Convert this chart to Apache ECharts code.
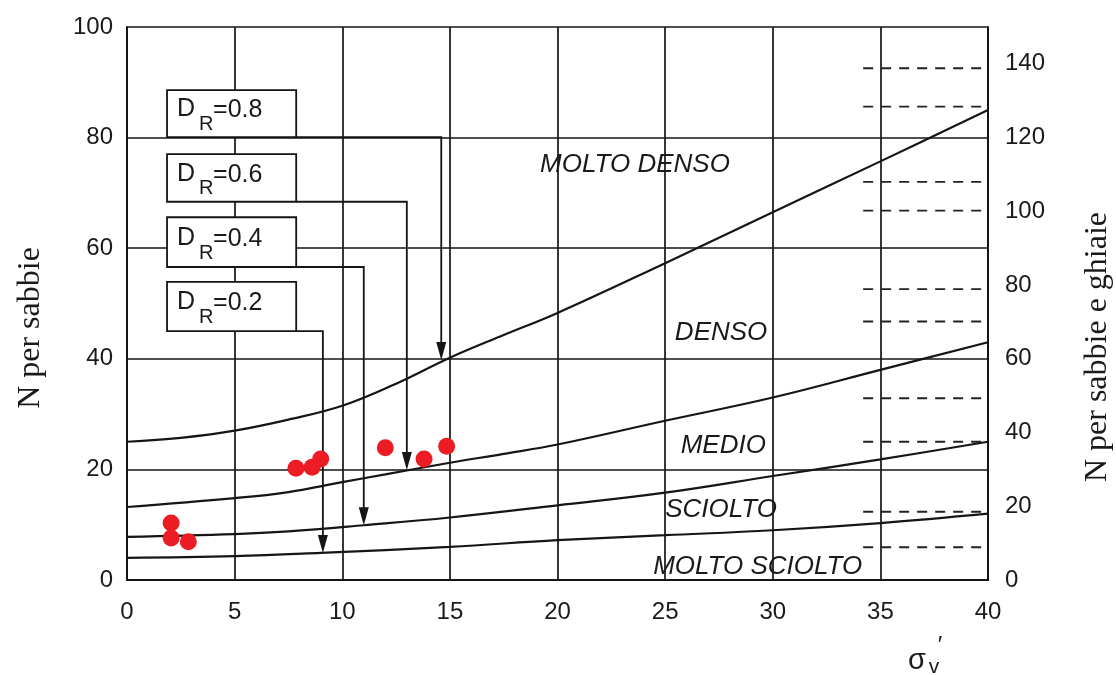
<!DOCTYPE html>
<html>
<head>
<meta charset="utf-8">
<title>N per sabbie</title>
<script src="https://cdn.jsdelivr.net/npm/echarts@6/dist/echarts.min.js"></script>
<style>
  html, body { margin: 0; padding: 0; background: #ffffff; }
  #chart { width: 1116px; height: 675px; }
</style>
</head>
<body>
<div id="chart"></div>
<script>
// Effective vertical stress axis (sigma'v)
const sigmaTicks = [0, 5, 10, 15, 20, 25, 30, 35, 40];

// Boundary curves between density classes: [sigma'v, N]
const curveMoltoDensoDenso = [[0, 25], [2.5, 25.7], [5, 27], [7.5, 29], [10, 31.5], [12.5, 35.5], [15, 40.2], [17.5, 44.3], [20, 48.3], [25, 57.3], [30, 66.5], [35, 75.7], [40, 85]];
const curveDensoMedio = [[0, 13.2], [5, 14.8], [7.5, 15.9], [10, 17.7], [12, 19.1], [15, 21.2], [17.5, 22.8], [20, 24.5], [25, 28.8], [30, 33], [35, 38], [40, 43]];
const curveMedioSciolto = [[0, 7.8], [5, 8.3], [7.5, 8.8], [11, 9.9], [15, 11.3], [20, 13.5], [25, 15.8], [30, 18.8], [35, 21.8], [40, 25]];
const curveScioltoMoltoSciolto = [[0, 4], [5, 4.3], [9, 4.9], [15, 6], [20, 7.2], [25, 8.1], [30, 9], [35, 10.3], [40, 12]];

// Measured points: [sigma'v, N]
const measuredSigma = [2.05, 2.05, 2.85, 7.85, 8.6, 9.0, 12.0, 13.8, 14.85];
const measuredN = [10.3, 7.6, 6.9, 20.2, 20.4, 21.9, 23.9, 21.9, 24.2];

// Relative density call-outs
const drLabels = ['0.8', '0.6', '0.4', '0.2'];
const drBoxLeft = [1.86, 1.86, 1.86, 1.86];
const drBoxRight = [7.86, 7.86, 7.86, 7.86];
const drBoxTop = [88.6, 77.0, 65.6, 53.9];
const drBoxBottom = [80.1, 68.4, 56.6, 45.0];
const drArrowSigma = [14.6, 13.0, 11.0, 9.1];
const drArrowTipN = [39.8, 19.9, 9.9, 4.9];

// Density class names and their positions
const zoneNames = ['MOLTO DENSO', 'DENSO', 'MEDIO', 'SCIOLTO', 'MOLTO SCIOLTO'];
const zoneSigma = [23.6, 27.6, 27.7, 27.6, 29.3];
const zoneN = [75.0, 44.7, 24.2, 12.7, 2.35];

// Reference levels on the sands-and-gravels scale
const gravelLevels = [138.8, 128.4, 108.0, 100.2, 78.9, 70.1, 49.3, 37.5, 18.5, 8.9];
const gravelStartSigma = 34.2;

// Axis ranges
const leftMin = 0, leftMax = 100, leftStep = 20;
const rightMin = 0, rightMax = 150, rightStep = 20;

const INK = '#151515';
const TEXT = '#1a1a1a';
const SANS = '"Liberation Sans", Arial, Helvetica, sans-serif';
const SERIF = '"Liberation Serif", "Times New Roman", serif';

const chart = echarts.init(document.getElementById('chart'), null, { renderer: 'canvas' });

const curveSeries = [curveMoltoDensoDenso, curveDensoMedio, curveMedioSciolto, curveScioltoMoltoSciolto].map((d) => ({
  type: 'line',
  data: d,
  smooth: 0.4,
  showSymbol: false,
  symbol: 'none',
  lineStyle: { color: INK, width: 2.2 },
  z: 2,
  silent: true
}));

const drRows = drLabels.map((_, i) => [drBoxLeft[i], drBoxTop[i], drBoxRight[i], drBoxBottom[i], drArrowSigma[i], drArrowTipN[i]]);

const option = {
  animation: false,
  backgroundColor: '#ffffff',
  grid: { left: 127, right: 128, top: 27, bottom: 95, containLabel: false },
  xAxis: {
    type: 'value',
    min: sigmaTicks[0],
    max: sigmaTicks[sigmaTicks.length - 1],
    interval: sigmaTicks[1] - sigmaTicks[0],
    axisLine: { show: true, lineStyle: { color: INK, width: 2 } },
    axisTick: { show: false },
    axisLabel: { color: TEXT, fontSize: 24, fontFamily: SANS, margin: 20 },
    splitLine: { show: true, lineStyle: { color: INK, width: 1.7 } }
  },
  yAxis: [
    {
      type: 'value',
      min: leftMin, max: leftMax, interval: leftStep,
      position: 'left',
      axisLine: { show: true, lineStyle: { color: INK, width: 2 } },
      axisTick: { show: false },
      axisLabel: { color: TEXT, fontSize: 24, fontFamily: SANS, margin: 14 },
      splitLine: { show: true, lineStyle: { color: INK, width: 1.7 } }
    },
    {
      type: 'value',
      min: rightMin, max: rightMax, interval: rightStep,
      position: 'right',
      axisLine: { show: true, lineStyle: { color: INK, width: 2 } },
      axisTick: { show: false },
      axisLabel: {
        color: TEXT, fontSize: 24, fontFamily: SANS, margin: 17,
        formatter: (v) => (v % rightStep === 0 ? String(v) : '')
      },
      splitLine: { show: false }
    }
  ],
  graphic: [
    {
      type: 'text', x: 31, y: 328, rotation: Math.PI / 2,
      style: { text: 'N per sabbie', font: '32px ' + SERIF, fill: TEXT, textAlign: 'center', textVerticalAlign: 'middle' }
    },
    {
      type: 'text', x: 1098, y: 347, rotation: Math.PI / 2,
      style: { text: 'N per sabbie e ghiaie', font: '32px ' + SERIF, fill: TEXT, textAlign: 'center', textVerticalAlign: 'middle' }
    },
    {
      type: 'group', x: 917, y: 661,
      children: [
        { type: 'text', x: 0, y: 0, style: { text: 'σ', font: '29px ' + SANS, fill: TEXT, textAlign: 'center', textVerticalAlign: 'middle' } },
        { type: 'text', x: 17, y: 6, style: { text: 'v', font: '21px ' + SANS, fill: TEXT, textAlign: 'center', textVerticalAlign: 'middle' } },
        { type: 'text', x: 23, y: -15, style: { text: '′', font: '24px ' + SANS, fill: TEXT, textAlign: 'center', textVerticalAlign: 'middle' } }
      ]
    }
  ],
  series: [
    ...curveSeries,
    {
      // dashed reference levels on the right scale
      type: 'custom',
      yAxisIndex: 1,
      data: gravelLevels.map((v) => [gravelStartSigma, v]),
      encode: { x: 0, y: 1 },
      z: 1,
      silent: true,
      renderItem: (params, api) => {
        const a = api.coord([api.value(0), api.value(1)]);
        const b = api.coord([sigmaTicks[sigmaTicks.length - 1], api.value(1)]);
        return {
          type: 'line',
          shape: { x1: a[0], y1: a[1], x2: b[0], y2: b[1] },
          style: { stroke: '#222', lineWidth: 1.9, lineDash: [10, 8] }
        };
      }
    },
    {
      // relative density boxes with leader arrows
      type: 'custom',
      data: drRows,
      encode: { x: [0, 2, 4], y: [1, 3, 5] },
      z: 3,
      clip: false,
      silent: true,
      renderItem: (params, api) => {
        const tl = api.coord([api.value(0), api.value(1)]);
        const br = api.coord([api.value(2), api.value(3)]);
        const ax = api.coord([api.value(4), api.value(3)]);
        const tip = api.coord([api.value(4), api.value(5)]);
        const cy = (tl[1] + br[1]) / 2;
        const x0 = tl[0] + 10;
        return {
          type: 'group',
          children: [
            {
              type: 'polyline',
              shape: { points: [[br[0], br[1]], [ax[0], br[1]], [tip[0], tip[1] - 4]] },
              style: { stroke: INK, lineWidth: 1.8, fill: null }
            },
            {
              type: 'polygon',
              shape: { points: [[tip[0] - 5, tip[1] - 18], [tip[0] + 5, tip[1] - 18], [tip[0], tip[1]]] },
              style: { fill: INK }
            },
            {
              type: 'rect',
              shape: { x: tl[0], y: tl[1], width: br[0] - tl[0], height: br[1] - tl[1] },
              style: { fill: '#ffffff', stroke: INK, lineWidth: 1.8 }
            },
            { type: 'text', x: x0, y: cy - 4, style: { text: 'D', font: '25px ' + SANS, fill: TEXT, textVerticalAlign: 'middle' } },
            { type: 'text', x: x0 + 22, y: cy + 11, style: { text: 'R', font: '20px ' + SANS, fill: TEXT, textVerticalAlign: 'middle' } },
            { type: 'text', x: x0 + 36, y: cy - 3, style: { text: '=' + drLabels[params.dataIndex], font: '25px ' + SANS, fill: TEXT, textVerticalAlign: 'middle' } }
          ]
        };
      }
    },
    {
      // density class names
      type: 'custom',
      data: zoneNames.map((n, i) => [zoneSigma[i], zoneN[i]]),
      encode: { x: 0, y: 1 },
      z: 4,
      silent: true,
      renderItem: (params, api) => {
        const p = api.coord([api.value(0), api.value(1)]);
        return {
          type: 'text',
          x: p[0], y: p[1],
          style: {
            text: zoneNames[params.dataIndex],
            font: 'italic 26px ' + SANS,
            fill: TEXT,
            textAlign: 'center',
            textVerticalAlign: 'middle'
          }
        };
      }
    },
    {
      // measured values
      type: 'scatter',
      data: measuredSigma.map((s, i) => [s, measuredN[i]]),
      symbol: 'circle',
      symbolSize: 17,
      itemStyle: { color: '#ec1c24', opacity: 1 },
      z: 5
    }
  ]
};

chart.setOption(option);
</script>
</body>
</html>
